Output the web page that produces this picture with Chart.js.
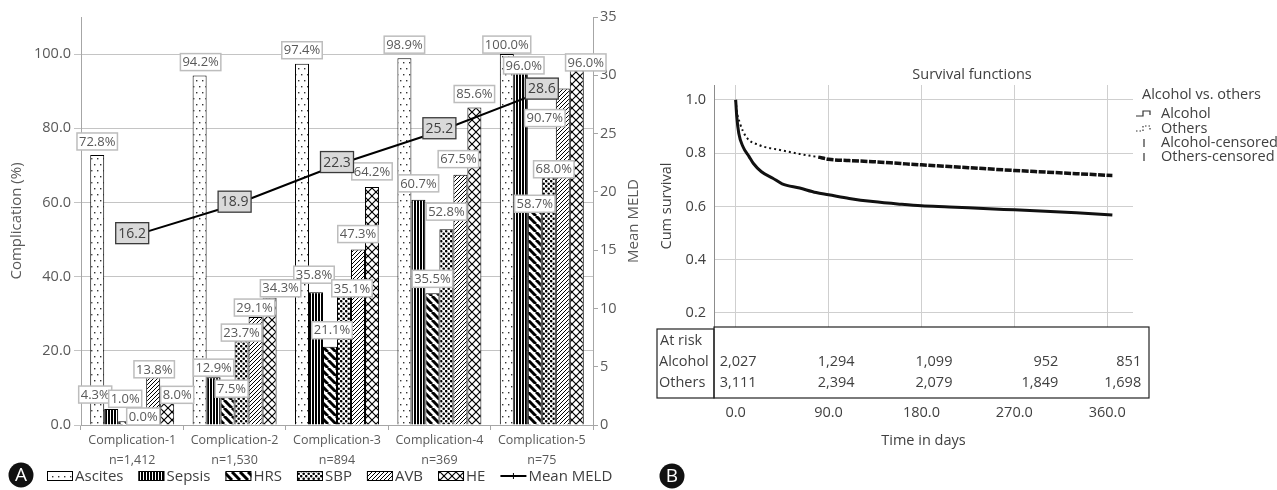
<!DOCTYPE html>
<html>
<head>
<meta charset="utf-8">
<title>Complications and survival</title>
<script src="https://cdn.jsdelivr.net/npm/chart.js@4.4.0/dist/chart.umd.min.js"></script>
<style>
  html, body { margin: 0; padding: 0; background: #fff; }
  #wrap { position: relative; width: 1277px; height: 490px; overflow: hidden; }
  #compChart { position: absolute; left: 0; top: 0; }
  #survChart { position: absolute; left: 640px; top: 0; }
</style>
</head>
<body>
<div id="wrap">
  <canvas id="compChart" width="640" height="490"></canvas>
  <canvas id="survChart" width="637" height="490"></canvas>
</div>
<script>
// ---- panel A data ----
const groups = ['Complication-1', 'Complication-2', 'Complication-3', 'Complication-4', 'Complication-5'];
const groupN = ['n=1,412', 'n=1,530', 'n=894', 'n=369', 'n=75'];
const ascites = [72.8, 94.2, 97.4, 98.9, 100.0];
const sepsis = [4.3, 12.9, 35.8, 60.7, 96.0];
const hrs = [1.0, 7.5, 21.1, 35.5, 58.7];
const sbp = [0.0, 23.7, 35.1, 52.8, 68.0];
const avb = [13.8, 29.1, 47.3, 67.5, 90.7];
const he = [8.0, 34.3, 64.2, 85.6, 96.0];
const meanMeld = [16.2, 18.9, 22.3, 25.2, 28.6];
const pctTicks = [0, 20, 40, 60, 80, 100];

// ---- panel B data ----
const alcoholDays = [0, 1, 3, 7, 13, 17, 25, 36, 45, 62, 78, 90, 110, 133, 160, 180, 207, 240, 270, 300, 330, 365];
const alcoholSurv = [1.0, 0.94, 0.875, 0.825, 0.787, 0.762, 0.73, 0.706, 0.685, 0.669, 0.652, 0.644, 0.63, 0.618, 0.608, 0.602, 0.598, 0.592, 0.587, 0.582, 0.576, 0.568];
const othersDays = [0, 1, 4, 10, 23, 43, 62, 80, 90, 110, 133, 160, 180, 207, 240, 270, 300, 330, 365];
const othersSurv = [1.0, 0.96, 0.914, 0.862, 0.83, 0.812, 0.797, 0.785, 0.777, 0.772, 0.768, 0.761, 0.756, 0.75, 0.742, 0.735, 0.729, 0.723, 0.716];
const riskDays = [0, 90, 180, 270, 360];
const riskAlcohol = ['2,027', '1,294', '1,099', '952', '851'];
const riskOthers = ['3,111', '2,394', '2,079', '1,849', '1,698'];
const survTicks = [0.2, 0.4, 0.6, 0.8, 1.0];

// label nudges (px) so the boxes sit like in the original, per series x group
const labelNudge = [
  [[0, -2], [1, -2], [0, -2], [0, -2], [0, 2]],
  [[-16, -3], [0, 2], [-2, -6], [0, -5], [3, 8]],
  [[0, -11], [4, 3], [2, -5], [0, -3], [0, 8]],
  [[4, 3], [0, 7], [8, 5], [0, -6], [5, 8]],
  [[1, 7], [-1, 2], [0, -4], [-2, -4], [-18, 41]],
  [[10, 11], [11, 2], [0, -4], [0, -2], [9, 5]]
];
const riskShift = [-16, 26, 31, 44, 34];

const FONT = "'Open Sans', sans-serif";
const GREY = '#595959';

function makePattern(w, h, draw) {
  const c = document.createElement('canvas');
  c.width = w; c.height = h;
  const g = c.getContext('2d');
  g.fillStyle = '#fff';
  g.fillRect(0, 0, w, h);
  g.fillStyle = '#000';
  g.strokeStyle = '#000';
  draw(g);
  return g.createPattern(c, 'repeat');
}

const patAscites = makePattern(6, 12, g => {
  g.fillStyle = '#333';
  g.fillRect(1, 2, 1.4, 1.4);
  g.fillRect(4, 8, 1.4, 1.4);
});
const patSepsis = makePattern(3, 2, g => { g.fillRect(0, 0, 2, 2); });
const patHrs = makePattern(8, 8, g => {
  g.lineWidth = 3;
  [-8, 0, 8].forEach(k => { g.beginPath(); g.moveTo(k, 0); g.lineTo(k + 8, 8); g.stroke(); });
});
const patSbp = makePattern(5, 5, g => {
  g.beginPath(); g.arc(1.2, 1.2, 1.3, 0, Math.PI * 2); g.fill();
  g.beginPath(); g.arc(3.7, 3.7, 1.3, 0, Math.PI * 2); g.fill();
});
const patAvb = makePattern(4, 4, g => {
  g.lineWidth = 1;
  [-4, 0, 4].forEach(k => { g.beginPath(); g.moveTo(k, 4); g.lineTo(k + 4, 0); g.stroke(); });
});
const patHe = makePattern(8, 8, g => {
  g.lineWidth = 1.2;
  [-8, 0, 8].forEach(k => {
    g.beginPath(); g.moveTo(k, 0); g.lineTo(k + 8, 8); g.stroke();
    g.beginPath(); g.moveTo(k, 8); g.lineTo(k + 8, 0); g.stroke();
  });
});

function barSet(label, data, pattern) {
  return {
    type: 'bar', label, data, backgroundColor: pattern, borderColor: '#000', borderWidth: 1,
    categoryPercentage: 0.82, barPercentage: 1.0, yAxisID: 'y', order: 1
  };
}

function badge(ctx, x, y, letter) {
  ctx.save();
  ctx.fillStyle = '#111';
  ctx.beginPath(); ctx.arc(x, y, 12.5, 0, Math.PI * 2); ctx.fill();
  ctx.fillStyle = '#fff';
  ctx.font = "19px " + FONT;
  ctx.textAlign = 'center'; ctx.textBaseline = 'middle';
  ctx.fillText(letter, x, y + 1);
  ctx.restore();
}

const panelA = {
  id: 'panelA',
  afterDatasetsDraw(chart) {
    const ctx = chart.ctx;
    ctx.save();
    ctx.textAlign = 'center';
    ctx.textBaseline = 'middle';
    // percentage boxes
    ctx.font = "13px " + FONT;
    chart.data.datasets.forEach((ds, di) => {
      if (ds.type !== 'bar') return;
      chart.getDatasetMeta(di).data.forEach((bar, i) => {
        const txt = ds.data[i].toFixed(1) + '%';
        const w = ctx.measureText(txt).width + 4, h = 17;
        const cx = bar.x + labelNudge[di][i][0];
        const bottom = bar.y - 3 + labelNudge[di][i][1];
        ctx.fillStyle = '#fff';
        ctx.fillRect(cx - w / 2, bottom - h, w, h);
        ctx.strokeStyle = '#bdbdbd';
        ctx.lineWidth = 1.5;
        ctx.strokeRect(cx - w / 2, bottom - h, w, h);
        ctx.fillStyle = GREY;
        ctx.fillText(txt, cx, bottom - h / 2 + 0.5);
      });
    });
    // MELD boxes
    ctx.font = "14px " + FONT;
    const lineIdx = chart.data.datasets.findIndex(d => d.type === 'line');
    chart.getDatasetMeta(lineIdx).data.forEach((pt, i) => {
      const txt = meanMeld[i].toFixed(1);
      const w = 33, h = 21;
      const cy = pt.y - 3;
      ctx.fillStyle = '#d9d9d9';
      ctx.fillRect(pt.x - w / 2, cy - h / 2, w, h);
      ctx.strokeStyle = '#3a3a3a';
      ctx.lineWidth = 1.3;
      ctx.strokeRect(pt.x - w / 2, cy - h / 2, w, h);
      ctx.fillStyle = '#404040';
      ctx.fillText(txt, pt.x, cy + 0.5);
    });
    ctx.restore();
  },
  afterDraw(chart) {
    const ctx = chart.ctx;
    ctx.save();
    ctx.fillStyle = GREY;
    ctx.font = "15px " + FONT;
    ctx.textAlign = 'center'; ctx.textBaseline = 'middle';
    ctx.translate(634, (chart.chartArea.top + chart.chartArea.bottom) / 2);
    ctx.rotate(-Math.PI / 2);
    ctx.fillText('Mean MELD', 0, 0);
    ctx.restore();

    // legend row under the axis
    ctx.save();
    ctx.font = "15px " + FONT;
    ctx.textAlign = 'left'; ctx.textBaseline = 'middle';
    let x = 47;
    const y = 476;
    chart.data.datasets.forEach(ds => {
      if (ds.type === 'bar') {
        ctx.fillStyle = ds.backgroundColor;
        ctx.fillRect(x, y - 5, 26, 10);
        ctx.strokeStyle = '#000';
        ctx.lineWidth = 1;
        ctx.strokeRect(x + 0.5, y - 4.5, 25, 9);
      } else {
        ctx.strokeStyle = '#000';
        ctx.lineWidth = 2;
        ctx.beginPath(); ctx.moveTo(x, y); ctx.lineTo(x + 26, y); ctx.stroke();
        ctx.lineWidth = 1;
        ctx.beginPath(); ctx.moveTo(x + 13, y - 3); ctx.lineTo(x + 13, y + 3); ctx.stroke();
      }
      ctx.fillStyle = '#404040';
      ctx.fillText(ds.label, x + 28, y + 1);
      x += 28 + ctx.measureText(ds.label).width + 15;
    });
    ctx.restore();
    badge(ctx, 21, 475, 'A');
  }
};

new Chart(document.getElementById('compChart').getContext('2d'), {
  data: {
    labels: groups.map((g, i) => [g, groupN[i]]),
    datasets: [
      barSet('Ascites', ascites, patAscites),
      barSet('Sepsis', sepsis, patSepsis),
      barSet('HRS', hrs, patHrs),
      barSet('SBP', sbp, patSbp),
      barSet('AVB', avb, patAvb),
      barSet('HE', he, patHe),
      {
        type: 'line', label: 'Mean MELD', data: meanMeld, yAxisID: 'y1', order: 0,
        borderColor: '#000', backgroundColor: '#000', borderWidth: 2, pointRadius: 0
      }
    ]
  },
  options: {
    responsive: false,
    animation: false,
    layout: { padding: { top: 17, left: 0, right: 0, bottom: 0 } },
    plugins: {
      tooltip: { enabled: false },
      legend: { display: false }
    },
    scales: {
      x: {
        offset: true,
        grid: { display: true, drawOnChartArea: false, offset: true, tickLength: 5, color: '#a6a6a6' },
        border: { color: '#a6a6a6' },
        ticks: { color: GREY, font: { family: FONT, size: 12.5, lineHeight: 1.6 }, padding: 0 },
        afterFit: s => { s.height = 65; }
      },
      y: {
        position: 'left', min: 0, max: 110,
        afterBuildTicks: s => { s.ticks = pctTicks.map(v => ({ value: v })); },
        ticks: { color: GREY, font: { family: FONT, size: 14.5 }, padding: 3, callback: v => Number(v).toFixed(1) },
        grid: { color: '#c4c4c4', tickLength: 7 },
        border: { color: '#a6a6a6' },
        title: { display: true, text: 'Complication (%)', color: GREY, font: { family: FONT, size: 15 }, padding: { top: 8 } },
        afterFit: s => { s.width = 81; }
      },
      y1: {
        position: 'right', min: 0, max: 35,
        ticks: { stepSize: 5, color: GREY, font: { family: FONT, size: 14.5 }, padding: 2 },
        grid: { drawOnChartArea: false, tickLength: 5, color: '#a6a6a6' },
        border: { color: '#a6a6a6' },
        afterFit: s => { s.width = 47; }
      }
    }
  },
  plugins: [panelA]
});

// ---- panel B ----
const TXT = '#404040';

const panelB = {
  id: 'panelB',
  afterDraw(chart) {
    const ctx = chart.ctx;
    const area = chart.chartArea;
    const xs = chart.scales.x;
    ctx.save();
    ctx.font = "14.5px " + FONT;
    ctx.fillStyle = TXT;
    ctx.textBaseline = 'middle';
    // title
    ctx.textAlign = 'center';
    ctx.fillText('Survival functions', 332, 75);
    // at-risk table
    const tTop = area.bottom, tBot = 398;
    ctx.strokeStyle = '#222';
    ctx.lineWidth = 1.2;
    ctx.strokeRect(area.left, tTop, area.right + 16 - area.left, tBot - tTop);
    ctx.strokeRect(17, tTop + 2, area.left - 17, tBot - tTop - 2);
    ctx.textAlign = 'left';
    ctx.fillText('At risk', 20, 341);
    ctx.fillText('Alcohol', 19, 362);
    ctx.fillText('Others', 19, 383);
    riskDays.forEach((d, i) => {
      const px = xs.getPixelForValue(d) + riskShift[i];
      ctx.textAlign = i === 0 ? 'left' : 'right';
      ctx.fillText(riskAlcohol[i], px, 362);
      ctx.fillText(riskOthers[i], px, 383);
    });
    // legend
    ctx.textAlign = 'left';
    ctx.fillText('Alcohol vs. others', 502, 95);
    ctx.fillText('Alcohol', 521, 114);
    ctx.fillText('Others', 521, 129);
    ctx.fillText('Alcohol-censored', 521, 143);
    ctx.fillText('Others-censored', 521, 157);
    ctx.strokeStyle = '#333';
    ctx.lineWidth = 1.2;
    const step = y => { ctx.beginPath(); ctx.moveTo(496, y + 2); ctx.lineTo(503, y + 2); ctx.lineTo(503, y - 3); ctx.lineTo(510, y - 3); ctx.lineTo(510, y + 1); ctx.stroke(); };
    step(114);
    ctx.setLineDash([1.5, 2]);
    step(129);
    ctx.setLineDash([]);
    ctx.beginPath(); ctx.moveTo(504, 139); ctx.lineTo(504, 147); ctx.stroke();
    ctx.beginPath(); ctx.moveTo(504, 153); ctx.lineTo(504, 161); ctx.stroke();
    ctx.restore();
    badge(ctx, 32, 476, 'B');
  }
};

new Chart(document.getElementById('survChart').getContext('2d'), {
  type: 'line',
  data: {
    datasets: [
      {
        label: 'Alcohol', data: alcoholDays.map((d, i) => ({ x: d, y: alcoholSurv[i] })),
        borderColor: '#111', borderWidth: 3, pointRadius: 0, cubicInterpolationMode: 'monotone'
      },
      {
        label: 'Others', data: othersDays.map((d, i) => ({ x: d, y: othersSurv[i] })),
        borderColor: '#111', borderWidth: 2, borderDash: [2, 3], pointRadius: 0, cubicInterpolationMode: 'monotone',
        segment: {
          borderWidth: c => (c.p0.parsed.x >= 78 ? 3.5 : 2),
          borderDash: c => (c.p0.parsed.x >= 78 ? [7, 1.5] : [2, 3])
        }
      }
    ]
  },
  options: {
    responsive: false,
    animation: false,
    layout: { padding: { top: 85, right: 144, left: 0, bottom: 0 } },
    plugins: { legend: { display: false }, tooltip: { enabled: false } },
    scales: {
      x: {
        type: 'linear', min: -21, max: 385,
        afterBuildTicks: s => { s.ticks = riskDays.map(v => ({ value: v })); },
        ticks: { color: TXT, font: { family: FONT, size: 14.5 }, padding: 77, callback: v => Number(v).toFixed(1) },
        grid: { color: '#cfcfcf', drawTicks: false },
        border: { display: false },
        title: { display: true, text: 'Time in days', color: TXT, font: { family: FONT, size: 14.5 }, padding: { top: 0, bottom: 40 } },
        afterFit: s => { s.height = 163; }
      },
      y: {
        min: 0.147, max: 1.056,
        afterBuildTicks: s => { s.ticks = survTicks.map(v => ({ value: v })); },
        ticks: { color: TXT, font: { family: FONT, size: 14.5 }, padding: 8, callback: v => Number(v).toFixed(1) },
        grid: { color: '#cfcfcf', drawTicks: false },
        border: { color: '#8c8c8c' },
        title: { display: true, text: 'Cum survival', color: TXT, font: { family: FONT, size: 14.5 }, padding: { top: 18 } },
        afterFit: s => { s.width = 74; }
      }
    }
  },
  plugins: [panelB]
});
</script>
</body>
</html>
